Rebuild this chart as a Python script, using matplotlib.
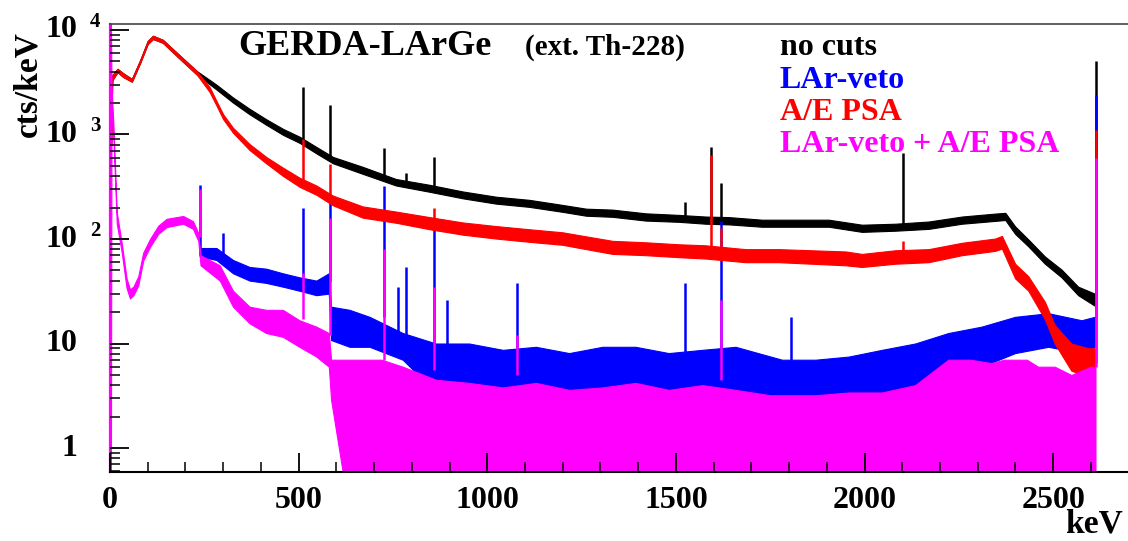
import matplotlib.pyplot as plt
from matplotlib.ticker import MultipleLocator, LogLocator, NullFormatter
import matplotlib.transforms as mtransforms

plt.rcParams['font.family'] = ['Liberation Serif', 'DejaVu Serif']
plt.rcParams['font.weight'] = 'bold'

# -----------------------------
# Spectra (cts/keV), as lower / upper edge of the noise band
# -----------------------------
E_nocut = [3, 6, 20, 35, 58, 80, 100, 114, 140, 185, 230, 282, 326, 370, 414, 459, 503,
           547, 591, 670, 758, 847, 935, 1023, 1111, 1199, 1262, 1332, 1420, 1508, 1579,
           1640, 1728, 1817, 1905, 1993, 2081, 2170, 2258, 2346, 2373, 2399, 2434, 2478,
           2522, 2566, 2610]
lo_nocut = [800, 3300, 3950, 3550, 3200, 4850, 7350, 8200, 7550, 5300, 3750, 2700, 2020,
            1560, 1240, 990, 830, 660, 530, 420, 325, 283, 245, 218, 203, 182, 167, 163,
            150, 146, 140, 138, 131, 131, 131, 117, 120, 125, 140, 149, 152, 112, 85, 58,
            43, 29, 23]
hi_nocut = [1200, 3700, 4250, 3850, 3400, 5150, 7850, 8800, 8050, 5700, 4050, 3000, 2260,
            1760, 1400, 1130, 950, 760, 610, 490, 375, 330, 285, 254, 237, 212, 195, 191,
            176, 170, 164, 162, 153, 153, 153, 137, 140, 147, 164, 175, 178, 132, 99, 68,
            51, 35, 30]

E_psa = [3, 6, 20, 35, 58, 80, 100, 114, 140, 185, 230, 264, 282, 300, 326, 370, 414, 459,
         503, 547, 591, 670, 758, 847, 935, 1023, 1111, 1199, 1262, 1332, 1420, 1508, 1579,
         1684, 1772, 1860, 1950, 1993, 2081, 2170, 2258, 2346, 2364, 2399, 2434, 2478,
         2504, 2548, 2593, 2610]
lo_psa = [800, 3300, 3950, 3550, 3200, 4850, 7350, 8200, 7550, 5300, 3750, 2550, 1900,
          1400, 1040, 710, 530, 400, 315, 265, 210, 160, 143, 124, 110, 101, 94, 88, 80,
          72, 70, 67, 65, 60, 60, 58, 56, 54, 58, 60, 70, 77, 81, 42, 32, 17, 10, 5.5,
          4.8, 4.8]
hi_psa = [1200, 3700, 4250, 3850, 3400, 5150, 7850, 8800, 8050, 5700, 4050, 2850, 2100,
          1560, 1160, 810, 610, 480, 385, 325, 260, 205, 183, 162, 144, 133, 124, 116, 106,
          96, 93, 89, 87, 80, 80, 78, 76, 72, 78, 80, 92, 101, 107, 58, 44, 25, 15, 10,
          9, 9]

E_veto = [238, 282, 326, 370, 414, 458, 502, 547, 580, 586, 635, 688, 776, 864, 952, 1041,
          1129, 1217, 1305, 1393, 1481, 1570, 1658, 1781, 1870, 1958, 2046, 2134, 2222,
          2310, 2399, 2487, 2575, 2610]
lo_veto = [68, 63, 47, 40, 38, 35, 32, 29, 30, 10.8, 9.3, 9.3, 7, 3.4, 3.9, 3.4, 2.9, 2.9,
           3.1, 3.1, 2.5, 2.7, 2.9, 3.1, 3.1, 2.9, 3.4, 3.9, 4.5, 6, 8.1, 9.3, 8.1, 9.3]
hi_veto = [82, 82, 63, 54, 52, 47, 43, 40, 47, 22.5, 21, 18, 12.6, 10, 10, 8.7, 9.3, 8.1,
           9.3, 9.3, 8.1, 8.7, 9.3, 7, 7, 7.5, 8.7, 10, 12.6, 14.5, 18, 19.5, 16.7, 18]

E_both = [0, 2.5, 4, 9, 18, 31, 44, 53, 62, 75, 88, 106, 128, 150, 194, 220, 234, 240, 291,
          326, 370, 414, 458, 502, 547, 580, 586, 620, 720, 776, 864, 952, 1041, 1129, 1217,
          1305, 1393, 1481, 1570, 1658, 1750, 1870, 1958, 2046, 2134, 2222, 2280, 2336,
          2370, 2430, 2460, 2504, 2548, 2600, 2612]
lo_both = [0.5, 0.5, 2000, 950, 140, 75, 34, 27, 29, 36, 62, 84, 112, 130, 140, 125, 96, 56,
           40, 22.5, 15.6, 12.6, 11.6, 9.3, 7.5, 6, 2.9, 0.5, 0.5, 0.5, 0.5, 0.5, 0.5, 0.5,
           0.5, 0.5, 0.5, 0.5, 0.5, 0.5, 0.5, 0.5, 0.5, 0.5, 0.5, 0.5, 0.5, 0.5, 0.5, 0.5,
           0.5, 0.5, 0.5, 0.5, 0.5]
hi_both = [12000, 12000, 3000, 1250, 180, 92, 42, 33, 35, 44, 74, 100, 134, 156, 166, 148,
           114, 70, 56, 32, 22.5, 21, 21, 16.7, 14.5, 12.6, 7, 7, 7, 6, 4.5, 4.2, 3.8, 4.2,
           3.6, 3.8, 4.2, 3.6, 4, 3.6, 3.2, 3.2, 3.4, 3.4, 4, 7, 7, 6.5, 7, 7, 6, 6, 5, 6, 6]

# gamma lines: energy, continuum under the line, top of the line
pk_nocut_E = [511, 583, 727, 785, 860, 1525, 1593, 1620, 2103, 2614]
pk_nocut_base = [850, 560, 380, 340, 300, 158, 152, 150, 130, 27]
pk_nocut_top = [2850, 1900, 740, 430, 610, 226, 755, 343, 660, 5100]

pk_psa_E = [511, 583, 860, 1593, 1620, 2103, 2614]
pk_psa_base = [340, 240, 140, 76, 75, 68, 6.5]
pk_psa_top = [900, 520, 200, 640, 127, 95, 1100]

pk_veto_E = [238, 300, 511, 583, 727, 763, 785, 860, 893, 1078, 1525, 1620, 1804, 2614]
pk_veto_base = [70, 63, 43, 40, 18, 12, 12, 10, 10, 9, 8, 9, 7, 18]
pk_veto_top = [330, 115, 200, 220, 320, 35, 54, 130, 26, 38, 38, 150, 18, 2400]

pk_both_E = [238, 511, 583, 727, 860, 1078, 1620, 2614]
pk_both_base = [105, 17, 12, 7, 5.6, 5, 4.5, 6]
pk_both_top = [300, 47, 160, 80, 35, 12, 26, 600]

ytick_exp = [0, 1, 2, 3, 4]
ytick_base = ['1', '10', '10', '10', '10']
ytick_sup = ['', '', '2', '3', '4']

legend_txt = ['no cuts', 'LAr-veto', 'A/E PSA', 'LAr-veto + A/E PSA']
colors = ['black', '#0000ff', '#ff0000', '#ff00ff']

# -----------------------------
# Plot
# -----------------------------
fig = plt.figure(figsize=(11.28, 5.41), dpi=100)
ax = fig.add_axes([0.0975, 0.128, 0.9031, 0.8276])

series = [
    (E_nocut, lo_nocut, hi_nocut, pk_nocut_E, pk_nocut_base, pk_nocut_top, colors[0], 2),
    (E_veto, lo_veto, hi_veto, pk_veto_E, pk_veto_base, pk_veto_top, colors[1], 3),
    (E_psa, lo_psa, hi_psa, pk_psa_E, pk_psa_base, pk_psa_top, colors[2], 4),
    (E_both, lo_both, hi_both, pk_both_E, pk_both_base, pk_both_top, colors[3], 5),
]
for E, lo, hi, pE, pb, pt, c, z in series:
    ax.fill_between(E, lo, hi, facecolor=c, edgecolor=c, lw=0.8, zorder=z)
    ax.vlines(pE, pb, pt, color=c, lw=1.8, zorder=z)

ax.set_yscale('log')
ax.set_xlim(0, 2700)
ax.set_ylim(0.593, 11400)

ax.xaxis.set_major_locator(MultipleLocator(500))
ax.xaxis.set_minor_locator(MultipleLocator(100))
ax.yaxis.set_major_locator(LogLocator(base=10, numticks=10))
ax.yaxis.set_minor_locator(LogLocator(base=10, subs=range(2, 10), numticks=20))
ax.yaxis.set_minor_formatter(NullFormatter())
ax.tick_params(which='major', direction='in', length=14, width=1.3, labelsize=23, pad=10)
ax.tick_params(which='minor', direction='in', length=7, width=1.1)
ax.tick_params(axis='y', which='both', labelleft=False)
ax.xaxis.set_zorder(10)
ax.yaxis.set_zorder(10)

for side, sp in ax.spines.items():
    sp.set_zorder(10)
ax.spines['right'].set_visible(False)
ax.spines['left'].set_color('#ff00ff')
ax.spines['left'].set_linewidth(1.6)
ax.spines['bottom'].set_linewidth(1.5)
ax.spines['top'].set_color('#444444')
ax.spines['top'].set_linewidth(1.2)

# ROOT style log labels: "10" with the exponent up and to the right
ytrans = ax.get_yaxis_transform()
sup_trans = mtransforms.offset_copy(ytrans, fig=fig, x=0, y=3, units='dots')
for k, b, s in zip(ytick_exp, ytick_base, ytick_sup):
    ax.text(-0.0324, 10 ** k, b, transform=ytrans, ha='right', va='center',
            fontsize=23, fontweight='bold', clip_on=False)
    if s:
        ax.text(-0.0196, 10 ** k, s, transform=sup_trans, ha='left', va='baseline',
                fontsize=15, fontweight='bold', clip_on=False)

fig.text(0.0248, 0.845, 'cts/keV', rotation=90, ha='center', va='center',
         fontsize=24, fontweight='bold')
fig.text(0.9956, 0.016, 'keV', ha='right', va='baseline', fontsize=24, fontweight='bold')

ax.text(0.1257, 0.931, 'GERDA-LArGe', transform=ax.transAxes, fontsize=26,
        fontweight='bold', va='baseline', zorder=11)
ax.text(0.4074, 0.931, '(ext. Th-228)', transform=ax.transAxes, fontsize=21,
        fontweight='bold', va='baseline', zorder=11)
for txt, c, yy in zip(legend_txt, colors, [0.931, 0.857, 0.786, 0.714]):
    ax.text(0.6577, yy, txt, color=c, transform=ax.transAxes, fontsize=23,
            fontweight='bold', va='baseline', zorder=1)

fig.savefig('out.png', dpi=100)
